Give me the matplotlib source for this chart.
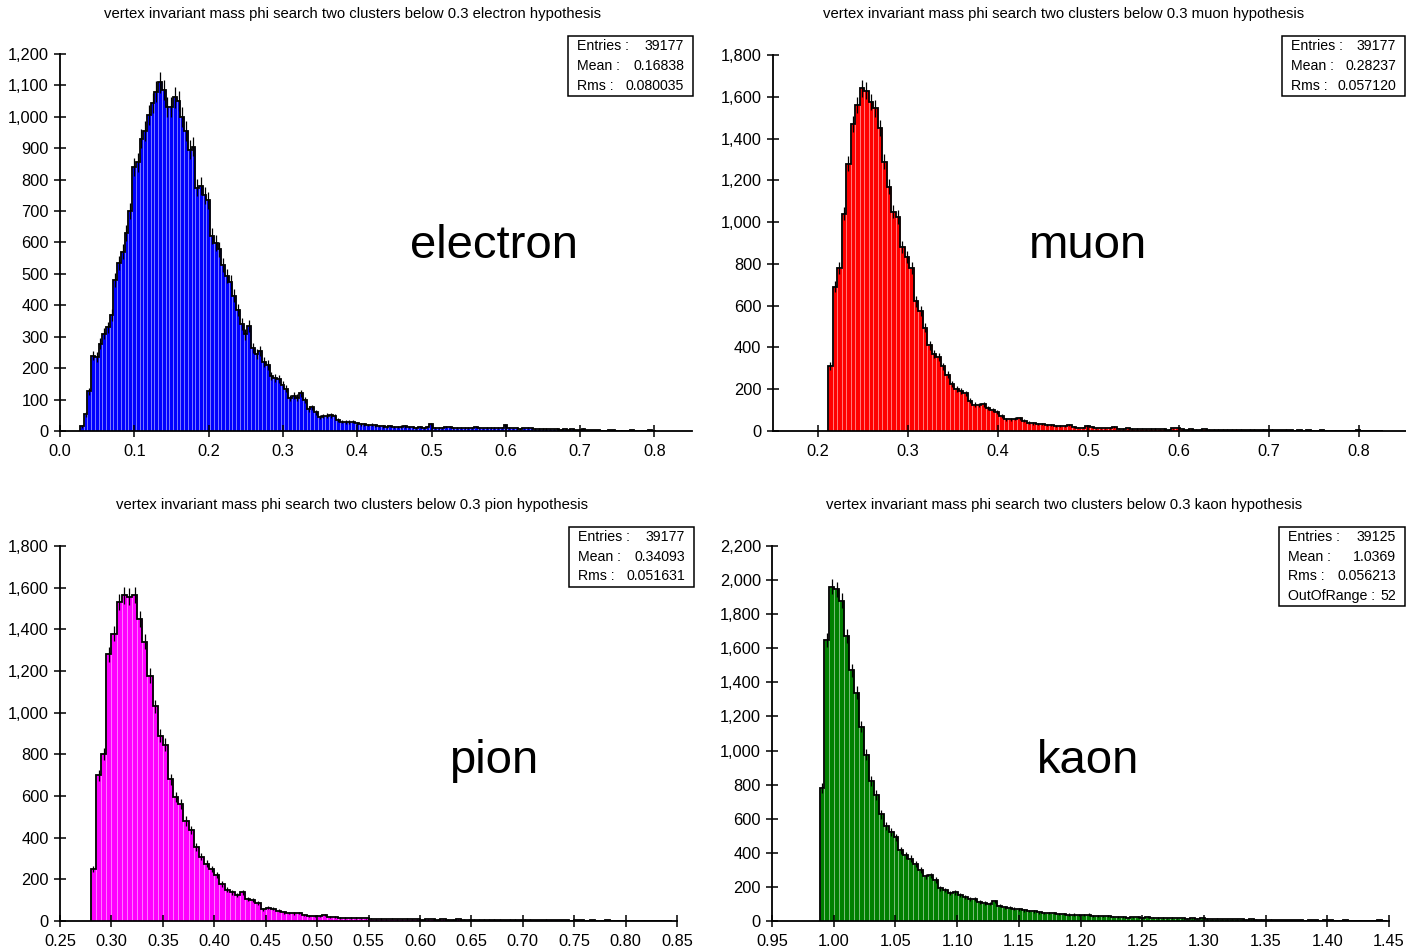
import numpy as np
import matplotlib
matplotlib.use("Agg")
import matplotlib.pyplot as plt
from matplotlib.ticker import FuncFormatter, MultipleLocator
from matplotlib.patches import Rectangle

# bin contents per hypothesis (first bin edge, bin width, counts)
electron_x0, electron_w = 0.027, 0.005
electron_counts = [
    15, 53, 127, 240, 235, 278, 310, 330, 370, 480,
    535, 570, 630, 700, 840, 855, 930, 955, 1005, 1045,
    1080, 1110, 1085, 1030, 1030, 1062, 1050, 1000, 955, 895,
    905, 775, 780, 750, 735, 620, 598, 578, 528, 492,
    474, 430, 385, 340, 308, 335, 265, 245, 254, 220,
    210, 175, 168, 165, 148, 135, 105, 112, 106, 120,
    98, 70, 75, 60, 45, 48, 49, 50, 48, 35,
    30, 29, 29, 30, 25, 22, 21, 19, 20, 18,
    16, 15, 14, 16, 13, 12, 14, 15, 13, 12,
    11, 12, 10, 13, 22, 11, 10, 9, 12, 13,
    11, 10, 9, 11, 10, 9, 12, 10, 8, 9,
    10, 9, 11, 10, 18, 9, 8, 9, 7, 8,
    9, 8, 7, 6, 7, 6, 5, 5, 6, 4,
    5, 4, 5, 3, 4, 6, 3, 2, 3, 2,
    1, 0, 2, 2, 0, 1, 0, 0, 2, 0,
    0, 0, 1, 2, 0,
]

muon_x0, muon_w = 0.2115, 0.005
muon_counts = [
    312, 690, 780, 1040, 1280, 1470, 1560, 1640, 1630, 1575,
    1544, 1450, 1290, 1170, 1050, 1024, 880, 835, 780, 620,
    576, 495, 410, 368, 355, 310, 270, 225, 202, 190,
    180, 145, 126, 125, 128, 110, 100, 93, 72, 56,
    56, 58, 60, 50, 40, 37, 34, 32, 30, 28,
    24, 24, 26, 28, 18, 16, 16, 22, 20, 13,
    13, 12, 14, 20, 11, 10, 12, 9, 10, 11,
    8, 9, 10, 8, 9, 7, 12, 14, 8, 7,
    8, 7, 6, 8, 7, 6, 7, 5, 6, 7,
    5, 6, 4, 5, 6, 4, 5, 3, 6, 4,
    3, 5, 3, 2, 3, 0, 3, 2, 0, 3,
    2, 0, 2, 0, 0, 2, 0, 3, 0, 0,
    0, 2, 0,
]

pion_x0, pion_w = 0.28, 0.005
pion_counts = [
    250, 700, 800, 1280, 1380, 1530, 1563, 1557, 1565, 1450,
    1340, 1178, 1030, 890, 847, 680, 597, 560, 480, 437,
    355, 309, 275, 250, 220, 178, 150, 137, 125, 138,
    105, 100, 86, 56, 64, 60, 50, 41, 38, 37,
    39, 30, 25, 26, 26, 28, 21, 18, 16, 16,
    15, 14, 13, 13, 11, 9, 10, 9, 11, 8,
    9, 10, 8, 9, 7, 8, 9, 7, 8, 6,
    7, 8, 6, 7, 6, 5, 6, 5, 7, 5,
    4, 6, 5, 4, 5, 6, 4, 3, 5, 4,
    3, 4, 3, 2, 4, 3, 2, 3, 0, 2,
    3, 0, 2, 0, 0, 2, 0, 2, 0, 0,
    0, 2, 0,
]

kaon_x0, kaon_w = 0.9885, 0.004
kaon_counts = [
    780, 1650, 1960, 1945, 1880, 1672, 1470, 1340, 1140, 975,
    820, 740, 625, 560, 522, 490, 415, 385, 366, 335,
    297, 262, 268, 240, 192, 182, 166, 168, 152, 138,
    131, 128, 113, 106, 102, 115, 89, 81, 77, 72,
    68, 63, 59, 57, 50, 47, 47, 45, 43, 43,
    38, 38, 37, 33, 38, 32, 29, 27, 31, 26,
    23, 22, 20, 21, 22, 20, 22, 20, 18, 19,
    16, 17, 15, 16, 14, 15, 13, 16, 12, 11,
    13, 10, 11, 9, 10, 9, 8, 9, 7, 8,
    6, 7, 5, 6, 5, 4, 6, 4, 0, 5,
    3, 0, 4, 3, 0, 2, 3, 0, 0, 2,
    0, 0, 0, 3, 0,
]

titles = [
    "vertex invariant mass phi search two clusters below 0.3 electron hypothesis",
    "vertex invariant mass phi search two clusters below 0.3 muon hypothesis",
    "vertex invariant mass phi search two clusters below 0.3 pion hypothesis",
    "vertex invariant mass phi search two clusters below 0.3 kaon hypothesis",
]
names = ["electron", "muon", "pion", "kaon"]
stats = [
    [("Entries :", "39177"), ("Mean :", "0.16838"), ("Rms :", "0.080035")],
    [("Entries :", "39177"), ("Mean :", "0.28237"), ("Rms :", "0.057120")],
    [("Entries :", "39177"), ("Mean :", "0.34093"), ("Rms :", "0.051631")],
    [("Entries :", "39125"), ("Mean :", "1.0369"), ("Rms :", "0.056213"),
     ("OutOfRange :", "52")],
]

W, H = 1406, 949
FONT = ["Liberation Sans", "DejaVu Sans"]
plt.rcParams["font.family"] = FONT

fig = plt.figure(figsize=(W / 100, H / 100), dpi=100)
fig.patch.set_facecolor("white")


def px_axes(left, right, top, bottom):
    return fig.add_axes([left / W, 1 - bottom / H, (right - left) / W, (bottom - top) / H])


def draw_hist(ax, x0, w, counts, color):
    counts = np.asarray(counts, dtype=float)
    edges = x0 + w * np.arange(len(counts) + 1)
    centers = 0.5 * (edges[:-1] + edges[1:])
    ax.bar(edges[:-1], counts, width=w, align="edge", color=color,
           edgecolor=(1, 1, 1, 0.35), linewidth=0.5, zorder=1)
    ax.stairs(counts, edges, baseline=0, color="black", linewidth=1.3, zorder=2)
    ax.errorbar(centers, counts, yerr=np.sqrt(counts), fmt="none",
                ecolor="black", elinewidth=0.9, capsize=0, zorder=3)


def style_axes(ax, xlim, ylim, xstep, ystep, xfmt):
    ax.set_xlim(*xlim)
    ax.set_ylim(*ylim)
    for side in ("top", "right"):
        ax.spines[side].set_visible(False)
    for side in ("left", "bottom"):
        ax.spines[side].set_linewidth(1.3)
    ax.xaxis.set_major_locator(MultipleLocator(xstep))
    ax.yaxis.set_major_locator(MultipleLocator(ystep))
    ax.xaxis.set_major_formatter(FuncFormatter(lambda v, p: xfmt % v))
    ax.yaxis.set_major_formatter(FuncFormatter(lambda v, p: f"{int(round(v)):,}"))
    ax.tick_params(axis="both", direction="inout", length=9, width=1.1,
                   labelsize=11.8, colors="black")
    ax.tick_params(axis="x", pad=5)
    ax.tick_params(axis="y", pad=3.5)
    ax.patch.set_alpha(0)


def stats_box(left, top, right, rows, row_h=19.6):
    bottom = top + row_h * len(rows) + 1
    fig.patches.append(Rectangle((left / W, 1 - bottom / H), (right - left) / W,
                                 (bottom - top) / H, transform=fig.transFigure,
                                 facecolor="white", edgecolor="black", linewidth=1.1,
                                 zorder=5))
    for i, (lab, val) in enumerate(rows):
        y = 1 - (top + row_h * (i + 0.5) + 0.5) / H
        fig.text((left + 9) / W, y, lab, ha="left", va="center", fontsize=10.2,
                 zorder=6)
        fig.text((right - 9) / W, y, val, ha="right", va="center", fontsize=10.2,
                 zorder=6)


# electron
ax1 = px_axes(60, 60 + 0.85 * 743, 54, 431)
draw_hist(ax1, electron_x0, electron_w, electron_counts, "#0000ff")
style_axes(ax1, (0.0, 0.85), (0, 1200), 0.1, 100, "%.1f")

# muon
ax2 = px_axes(772.6, 772.6 + 0.71 * 902, 55, 431)
draw_hist(ax2, muon_x0, muon_w, muon_counts, "#ff0000")
style_axes(ax2, (0.15, 0.86), (0, 1800), 0.1, 200, "%.1f")
ax2.set_xticks(np.arange(0.2, 0.81, 0.1))

# pion
ax3 = px_axes(60, 677, 546, 921)
draw_hist(ax3, pion_x0, pion_w, pion_counts, "#ff00ff")
style_axes(ax3, (0.25, 0.85), (0, 1800), 0.05, 200, "%.2f")

# kaon
ax4 = px_axes(772, 1389, 546, 921)
draw_hist(ax4, kaon_x0, kaon_w, kaon_counts, "#008000")
style_axes(ax4, (0.95, 1.45), (0, 2200), 0.05, 200, "%.2f")

# titles above each panel
for (cx, cy), t in zip([(352, 14), (1064, 14), (352, 505), (1064, 505)], titles):
    fig.text(cx / W, 1 - cy / H, t, ha="center", va="center", fontsize=10.7)

# particle names
for (cx, by), n in zip([(494, 258), (1088, 258), (494, 773), (1088, 773)], names):
    fig.text(cx / W, 1 - by / H, n, ha="center", va="baseline", fontsize=34)

# statistics boxes
stats_box(568, 36, 693, stats[0])
stats_box(1282, 36, 1405, stats[1])
stats_box(569, 527, 694, stats[2])
stats_box(1279, 527, 1405, stats[3])

fig.savefig("out.png", dpi=100, facecolor="white")
